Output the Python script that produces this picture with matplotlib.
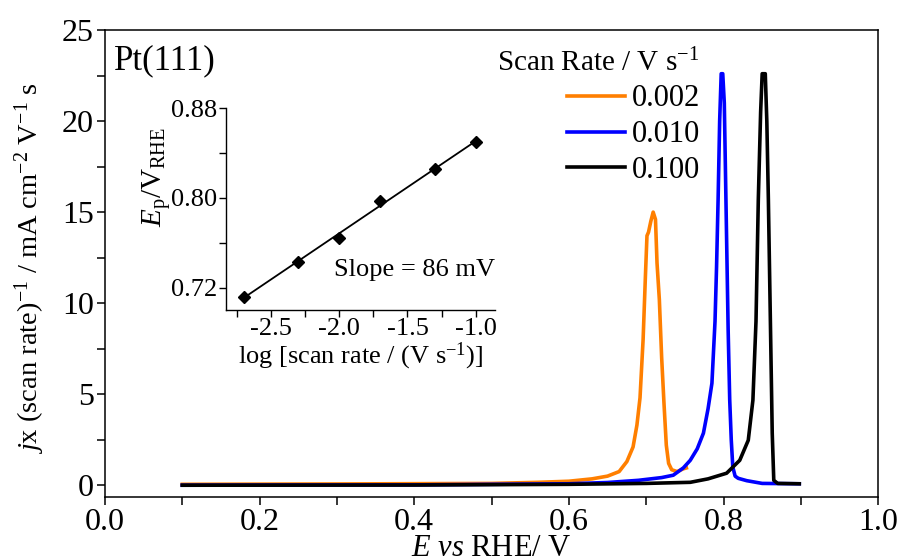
import numpy as np
import matplotlib.pyplot as plt
from matplotlib.ticker import MultipleLocator

plt.rcParams['font.family'] = 'Liberation Serif'
plt.rcParams['mathtext.fontset'] = 'custom'
plt.rcParams['mathtext.rm'] = 'Liberation Serif'
plt.rcParams['mathtext.it'] = 'Liberation Serif:italic'
plt.rcParams['mathtext.bf'] = 'Liberation Serif:bold'
plt.rcParams['axes.unicode_minus'] = False

# scan rate 0.002 V/s
e_002 = [0.10, 0.30, 0.50, 0.56, 0.60, 0.63, 0.65, 0.665, 0.675, 0.683, 0.688, 0.692,
         0.696, 0.699, 0.701, 0.703, 0.706, 0.709, 0.712, 0.714, 0.717, 0.720, 0.723,
         0.726, 0.729, 0.733, 0.740, 0.748, 0.752]
j_002 = [0.05, 0.07, 0.10, 0.16, 0.22, 0.35, 0.50, 0.75, 1.3, 2.1, 3.3, 4.8,
         8.0, 11.5, 13.7, 13.9, 14.5, 15.0, 14.6, 12.2, 10.2, 7.0, 4.5,
         2.2, 1.2, 0.85, 0.75, 0.9, 0.95]

# scan rate 0.010 V/s
e_010 = [0.10, 0.40, 0.60, 0.65, 0.69, 0.72, 0.735, 0.748, 0.757, 0.766, 0.774, 0.780,
         0.785, 0.789, 0.791, 0.793, 0.795, 0.797, 0.799, 0.801, 0.803, 0.806, 0.808,
         0.810, 0.812, 0.815, 0.819, 0.830, 0.850, 0.898]
j_010 = [0.0, 0.02, 0.08, 0.15, 0.27, 0.42, 0.55, 0.95, 1.37, 2.0, 2.86, 4.2,
         5.6, 9.0, 12.0, 15.7, 20.0, 22.6, 22.6, 21.0, 16.0, 8.5, 4.7,
         2.5, 1.0, 0.5, 0.38, 0.25, 0.1, 0.08]

# scan rate 0.100 V/s
e_100 = [0.10, 0.40, 0.60, 0.70, 0.757, 0.78, 0.804, 0.821, 0.832, 0.838, 0.842, 0.845,
         0.848, 0.850, 0.854, 0.856, 0.858, 0.861, 0.863, 0.865, 0.870, 0.898]
j_100 = [0.0, 0.01, 0.05, 0.10, 0.16, 0.35, 0.66, 1.37, 2.47, 4.67, 9.0, 15.7,
         20.5, 22.6, 22.6, 20.0, 15.7, 8.0, 2.86, 0.27, 0.1, 0.08]

# inset: peak potential vs log(scan rate)
scan_rates = [0.002, 0.005, 0.010, 0.020, 0.050, 0.100]
e_peak = [0.712, 0.743, 0.764, 0.797, 0.826, 0.850]

fig = plt.figure(figsize=(8.97, 5.56), dpi=100)
ax = fig.add_axes([0.117, 0.106, 0.862, 0.840])

ax.plot(e_002, j_002, color='#ff7f00', lw=2.6, label='0.002')
ax.plot(e_010, j_010, color='#0000ff', lw=2.6, label='0.010')
ax.plot(e_100, j_100, color='black', lw=2.6, label='0.100')

ax.set_xlim(0.0, 1.0)
ax.set_ylim(-0.65, 25)
ax.xaxis.set_major_locator(MultipleLocator(0.2))
ax.xaxis.set_minor_locator(MultipleLocator(0.1))
ax.yaxis.set_major_locator(MultipleLocator(5))
ax.yaxis.set_minor_locator(MultipleLocator(2.5))
ax.xaxis.set_major_formatter(lambda v, p: f'{v:.1f}')
ax.tick_params(which='both', direction='out', length=6, width=1.1, labelsize=23, pad=2,
               top=False, right=False)
for s in ax.spines.values():
    s.set_linewidth(1.1)

ax.set_xlabel(r'$E$ $vs$ RHE/ V', fontsize=22, labelpad=-2)
ax.set_ylabel(r'$j$x (scan rate)$^{-1}$ / mA cm$^{-2}$ V$^{-1}$ s', fontsize=20.5)
ax.yaxis.set_label_coords(-0.075, 0.49)
ax.text(0.012, 0.935, 'Pt(111)', transform=ax.transAxes, fontsize=25, va='center', ha='left')

leg = ax.legend(title=r'Scan Rate / V s$^{-1}$', frameon=False, fontsize=22,
                title_fontsize=21, loc='upper right', bbox_to_anchor=(0.785, 0.985),
                handlelength=1.9, handletextpad=0.2, labelspacing=0.22,
                alignment='right', borderaxespad=0)

# inset
x_log = np.log10(scan_rates)
coef = np.polyfit(x_log, e_peak, 1)
ins = fig.add_axes([0.2516, 0.4424, 0.3002, 0.3633])
xx = np.array([x_log.min(), x_log.max()])
ins.plot(xx, np.polyval(coef, xx), color='black', lw=1.3)
ins.plot(x_log, e_peak, 'D', color='black', ms=6.5)
ins.set_xlim(-2.83, -0.86)
ins.set_ylim(0.70, 0.88)
ins.xaxis.set_major_locator(MultipleLocator(0.5))
ins.xaxis.set_minor_locator(MultipleLocator(0.25))
ins.set_yticks([0.72, 0.80, 0.88])
ins.set_yticks([0.76, 0.84], minor=True)
ins.xaxis.set_major_formatter(lambda v, p: f'{v:.1f}')
ins.yaxis.set_major_formatter(lambda v, p: f'{v:.2f}')
ins.spines['top'].set_visible(False)
ins.spines['right'].set_visible(False)
for s in ins.spines.values():
    s.set_linewidth(1.0)
ins.tick_params(which='both', direction='out', length=5, width=1.0, labelsize=19, pad=1)
ins.set_xlabel(r'log [scan rate / (V s$^{-1}$)]', fontsize=19, labelpad=0)
ins.set_ylabel(r'$E_{\rm p}$/V$_{\rm RHE}$', fontsize=21)
ins.yaxis.set_label_coords(-0.195, 0.66)
ins.patch.set_alpha(0)
ins.text(1.0, 0.2, 'Slope = 86 mV', transform=ins.transAxes, fontsize=19,
         ha='right', va='center')

fig.savefig('out.png', dpi=100)
